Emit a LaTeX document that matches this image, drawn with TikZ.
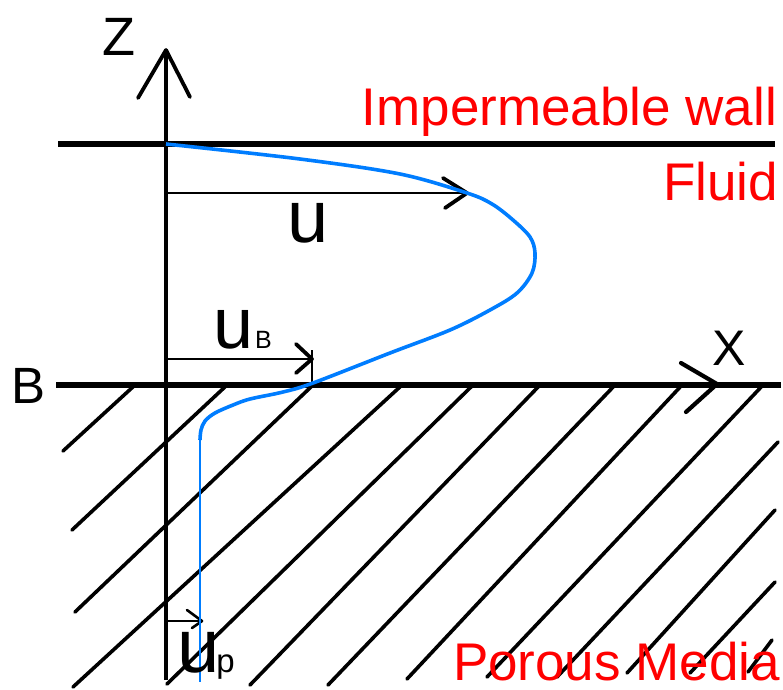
\documentclass[tikz,border=0pt]{standalone}
\usepackage{fontspec}
\setmainfont{Liberation Sans}
\definecolor{profblue}{RGB}{0,125,255}
\definecolor{lblred}{RGB}{255,0,0}
\newcommand{\lblsize}[1]{\fontsize{#1}{#1}\selectfont}
\begin{document}
\begin{tikzpicture}[x=1pt,y=-1pt,
  wallline/.style={line width=5.5pt},
  axisline/.style={line width=3.4pt},
  hatchline/.style={line width=3.6pt,line cap=round},
  wing/.style={line width=3.8pt,line cap=round,line join=round},
  shaft/.style={line width=2.3pt},
  profile/.style={profblue,line width=3.6pt},
  lbl/.style={inner sep=0pt,outer sep=0pt},
  redlbl/.style={lbl,text=lblred,font=\lblsize{53}},
]
\useasboundingbox (0,0) rectangle (783,689);
% hatching of the porous medium
\foreach \xa/\ya/\xb/\yb in {63/451/135/385, 72/530/227/385, 75/612/313/385,
  73/687/402/385, 167/684/473/385, 250/685/540/385, 328/685/615/385,
  407/679/682/385, 487/677/763/385, 557/677/778/442, 627/673/775/510,
  690/673/775/582, 748/672/772/640}
  \draw[hatchline] (\xa,\ya) -- (\xb,\yb);
% coordinates
\coordinate (ztip) at (166,50);
\coordinate (zbot) at (166,680);
\coordinate (zwl) at (138,98);
\coordinate (zwr) at (190,97);
\coordinate (wallL) at (58,144);
\coordinate (wallR) at (775,144);
\coordinate (bL) at (56,385);
\coordinate (bR) at (781,385);
\coordinate (xtip) at (717,384);
\coordinate (xwu) at (681,363);
\coordinate (xwd) at (686,412);
\coordinate (us) at (166,193);
\coordinate (ut) at (467,193);
\coordinate (uwu) at (443,178);
\coordinate (uwd) at (445,208);
\coordinate (ubs) at (166,359);
\coordinate (ubt) at (312,359);
\coordinate (ubwu) at (296,344);
\coordinate (ubwd) at (296,373);
\coordinate (barT) at (312,350);
\coordinate (barB) at (312,388);
\coordinate (ups) at (166,621);
\coordinate (upt) at (202,621);
\coordinate (upwu) at (187,610);
\coordinate (upwd) at (192,628);
\coordinate (pvtop) at (200,440);
\coordinate (pvbot) at (200,682);
% walls and axes
\draw[wallline] (wallL) -- (wallR);
\draw[wallline] (bL) -- (bR);
\draw[axisline] (zbot) -- (ztip);
\draw[wing] (zwl) -- (ztip) -- (zwr);
\draw[wing,line width=4.2pt] (xwu) -- (xtip) -- (xwd);
% velocity arrows
\draw[shaft] (us) -- (ut);
\draw[wing] (uwu) -- (ut) -- (uwd);
\draw[shaft] (ubs) -- (ubt);
\draw[wing] (ubwu) -- (ubt) -- (ubwd);
\draw[shaft,line width=2.8pt] (barT) -- (barB);
\draw[shaft] (ups) -- (upt);
\draw[wing,line width=2.6pt] (upwu) -- (upt) -- (upwd);
% velocity profile
\draw[profile] plot[smooth,tension=0.55] coordinates {(166,144) (300,159)
  (400,174) (467,193) (492,204) (513,220) (530,237) (535,253) (532,273)
  (517,293) (490,310) (450,330) (390,353) (313,383) (283,392) (250,399) (233,405)
  (215,413) (205,421) (201,430) (200,440)};
\draw[profblue,line width=2.5pt] (pvtop) -- (pvbot);
% labels
\node[lbl,font=\lblsize{54},anchor=base] (zlab) at (119,55) {Z};
\node[lbl,font=\lblsize{51},anchor=base] (blab) at (29,403) {B};
\node[lbl,font=\lblsize{50},anchor=base] (xlab) at (729,365) {X};
\node[redlbl,anchor=base east] (walllab) at (777,125) {Impermeable wall};
\node[redlbl,anchor=base east] (fluidlab) at (778,200) {Fluid};
\node[redlbl,anchor=base east] (porouslab) at (780,680) {Porous Media};
\node[lbl,font=\lblsize{74},anchor=base] (ulab) at (308,242) {u};
\node[lbl,anchor=base west] (ublab) at (213,348) {{\lblsize{72}u}\kern2pt{\lblsize{25}B}};
\node[lbl,anchor=base west] (uplab) at (177,672) {{\lblsize{76}u}\kern-3pt{\lblsize{33}p}};
\end{tikzpicture}
\end{document}
